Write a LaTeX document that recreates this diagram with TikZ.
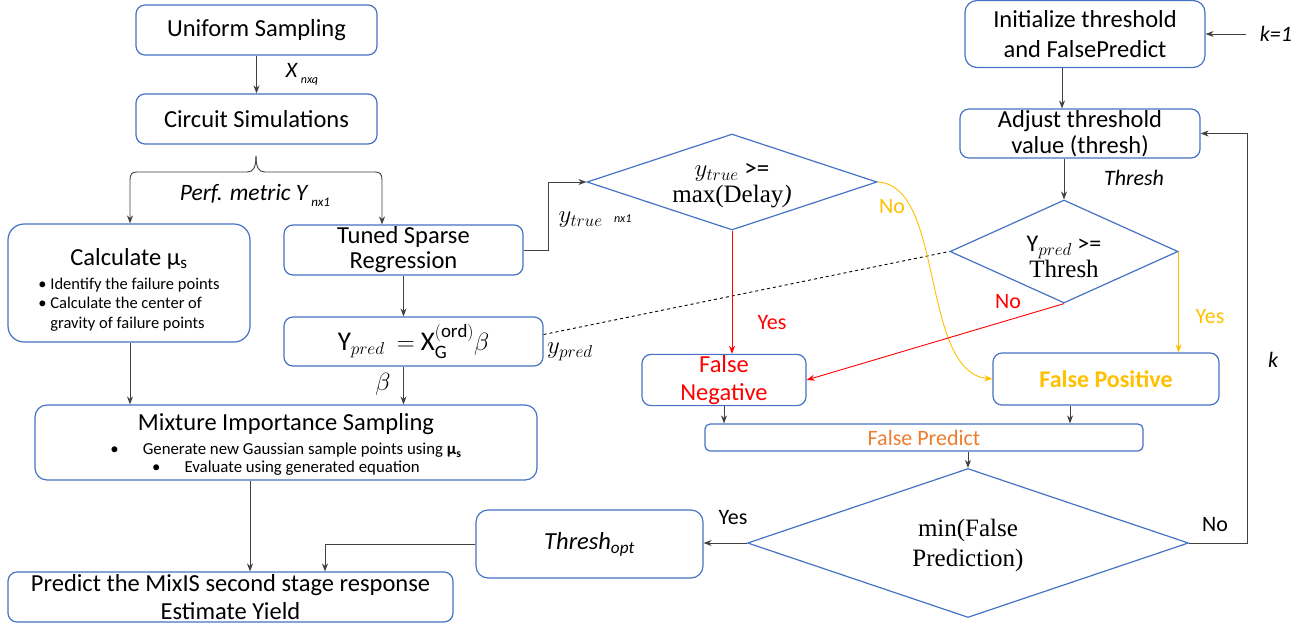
\documentclass[tikz,border=0pt]{standalone}
\usepackage{fontspec}
\setmainfont{Carlito}
\newfontfamily\serifface{Liberation Serif}
\usepackage{tikz}
\usetikzlibrary{arrows.meta, shapes.geometric, positioning, calc}
\usepackage{amsmath}

\definecolor{boxblue}{HTML}{4472C4}
\definecolor{fpyellow}{HTML}{FFC000}
\definecolor{fporange}{HTML}{ED7D31}
\definecolor{fnred}{HTML}{FF0000}
\definecolor{linegray}{HTML}{404040}

\tikzset{
  box/.style={draw=boxblue, line width=1.2pt, rounded corners=9pt, align=center, inner sep=1pt, font=\fontsize{24.5}{28}\selectfont},
  decision/.style={draw=boxblue, line width=1.2pt, diamond, inner sep=0pt},
  dtext/.style={align=center, inner sep=0pt, font=\fontsize{24}{26}\selectfont},
  line/.style={draw=linegray, line width=0.9pt},
  lbl/.style={font=\fontsize{22}{24}\selectfont},
}

\begin{document}
\begin{tikzpicture}[x=1pt, y=-1pt, >={Stealth[length=8pt,width=6pt]}]
\useasboundingbox (0,0) rectangle (1301,625);

% left column
\node[box, minimum width=241pt, minimum height=50pt] (us) at (256.5,30) {Uniform Sampling};
\node[box, minimum width=241pt, minimum height=50pt] (cs) at (256.5,119) {Circuit Simulations};
\node[box, rounded corners=16pt, minimum width=242pt, minimum height=118pt] (calc) at (129,283)
  {\rule{0pt}{33pt}Calculate μ\textsubscript{s}\\[-4pt]
   \fontsize{16.5}{19.5}\selectfont\begin{tabular}[t]{@{}l@{}}
   \textbullet\ Identify the failure points\\
   \textbullet\ Calculate the center of\\
   \phantom{\textbullet\ }gravity of failure points
   \end{tabular}};
\node[box, minimum width=239pt, minimum height=50pt, font=\fontsize{24.5}{25}\selectfont] (tsr) at (403.5,250) {Tuned Sparse\\Regression};
\node[box, minimum width=259pt, minimum height=49pt, font=\fontsize{27}{28}\selectfont] (ypb) at (413.5,341.5)
  {Y$_{pred}$\ \ $=$\ X$_{\mathrm{G}}^{(\mathrm{ord})}\beta$};
\node[box, rounded corners=12pt, minimum width=502pt, minimum height=75pt] (mis) at (286,442.5)
  {\rule{0pt}{23pt}Mixture Importance Sampling\\[-4pt]
   \fontsize{16.8}{17.5}\selectfont\begin{tabular}[t]{@{}c@{}}
   \textbullet\hspace{24pt}Generate new Gaussian sample points using \textbf{μ\textsubscript{s}}\\
   \textbullet\hspace{24pt}Evaluate using generated equation
   \end{tabular}};
\node[box, minimum width=445pt, minimum height=50pt, font=\fontsize{24.5}{28}\selectfont] (pred) at (230.5,597)
  {Predict the MixIS second stage response\\Estimate Yield};
\node[box, rounded corners=12pt, minimum width=227pt, minimum height=68pt] (topt) at (589.5,544) {\itshape Thresh\textsubscript{opt}};

% decisions
\node[decision, minimum width=290pt, minimum height=96pt] (ytd) at (732,182) {};
\node[dtext] (ytdtext) at (732,186) {\fontsize{25}{26}\selectfont$y_{true}$ >=\\{\serifface\fontsize{25}{26}\selectfont max(Delay\textit{)}}};
\node[decision, minimum width=228pt, minimum height=103pt] (ypt) at (1064,251.5) {};
\node[dtext] (ypttext) at (1064,257) {Y$_{pred}$ >=\\{\serifface\fontsize{25}{26}\selectfont Thresh}};
\node[decision, minimum width=441pt, minimum height=149pt] (minfp) at (968,543) {};
\node[dtext, font=\serifface\fontsize{25}{30}\selectfont] (minfptext) at (968,545) {min(False\\Prediction)};

% right column
\node[box, rounded corners=12pt, minimum width=240pt, minimum height=67pt, font=\fontsize{24.5}{30}\selectfont] (init) at (1085,34) {Initialize threshold\\and FalsePredict};
\node[box, minimum width=240pt, minimum height=49pt, font=\fontsize{24.5}{26}\selectfont] (adj) at (1080,133.5) {Adjust threshold\\value (thresh)};
\node[box, minimum width=164pt, minimum height=51pt, text=fnred, font=\fontsize{24.5}{28}\selectfont] (fn) at (724,380) {False\\Negative};
\node[box, minimum width=226pt, minimum height=52pt, text=fpyellow, font=\bfseries\fontsize{24}{28}\selectfont] (fp) at (1106,379) {False Positive};
\node[box, rounded corners=5pt, inner sep=0pt, minimum width=438pt, minimum height=27pt, text=fporange, font=\fontsize{22}{24}\selectfont] (fpr) at (924,437.5) {False Predict};

% labels
\node[lbl, font=\itshape\fontsize{22}{24}\selectfont] (xlab) at (302,74) {X\,\raisebox{-6pt}{\fontsize{12}{12}\selectfont nxq}};
\node[lbl, font=\itshape\fontsize{23.5}{24}\selectfont] (ylab) at (255,195) {Perf. metric Y\,\raisebox{-6pt}{\fontsize{13}{13}\selectfont nx1}};
\node[lbl] (ytlab) at (595,220) {\fontsize{25}{25}\selectfont$y_{true}$\ \ \itshape\fontsize{12}{12}\selectfont nx1};
\node[lbl] (yplab) at (570,352) {\fontsize{25}{25}\selectfont$y_{pred}$};
\node[lbl] (blab) at (383,384) {\fontsize{24}{24}\selectfont$\beta$};
\node[lbl, font=\itshape\fontsize{22}{24}\selectfont] (thlab) at (1134,178) {Thresh};
\node[lbl, text=fpyellow] (no1) at (892,207) {No};
\node[lbl, text=fnred] (yes1) at (772,323) {Yes};
\node[lbl, text=fnred] (no2) at (1008,302) {No};
\node[lbl, text=fpyellow] (yes2) at (1210,317) {Yes};
\node[lbl] (yes3) at (733,518) {Yes};
\node[lbl] (no3) at (1215,525) {No};
\node[lbl, font=\itshape\fontsize{22}{24}\selectfont] (klab) at (1273,360) {k};
\node[lbl, font=\itshape\fontsize{22}{24}\selectfont] (k1lab) at (1276,34) {k=1};

\coordinate (kone) at (1246,34);
\coordinate (loop) at (1247,340);
\coordinate (tip) at (256,156);

% connectors
\draw[line,->] (us) -- (cs);
\draw[line,->] (tip) .. controls (256,168) and (253,172) .. (247,172) -- (137,172)
  .. controls (132,172) and (130,174) .. (130,180) -- (130,0 |- calc.north);
\draw[line,->] (tip) .. controls (256,168) and (259,172) .. (265,172) -- (375,172)
  .. controls (380,172) and (382,174) .. (382,180) -- (382,0 |- tsr.north);
\draw[line,->] (calc.south -| 130,0) -- (130,0 |- mis.north);
\draw[line,->] (tsr.south) -- (tsr.south |- ypb.north);
\draw[line,->] (tsr.south |- ypb.south) -- (tsr.south |- mis.north);
\draw[line,->] (250,0 |- mis.south) -- (250,0 |- pred.north);
\draw[line,->] (topt.west) -| (325,0 |- pred.north);
\draw[line,->] (tsr.east) -- ++(25,0) |- (ytd.west);
\draw[dashed, line width=0.9pt] ([yshift=7pt]ypb.east) -- (ypt.west);
\draw[fnred, line width=0.9pt, ->] (ytd.south) -- (ytd.south |- fn.north);
\draw[fpyellow, line width=0.9pt, ->] (ytd.east) .. controls (945,185) and (920,372) .. (fp.west);
\draw[fpyellow, line width=0.9pt, ->] (ypt.east) -- (ypt.east |- fp.north);
\draw[fnred, line width=0.9pt, ->] (ypt.south) -- (fn.east);
\draw[line,->] (kone) -- (kone -| init.east);
\draw[line,->] (init.south -| 1062,0) -- (1062,0 |- adj.north);
\draw[line,->] (ypt.north |- adj.south) -- (ypt.north);
\draw[line,->] (fn.south) -- (fn.south |- fpr.north);
\draw[line,->] (1070,0 |- fp.south) -- (1070,0 |- fpr.north);
\draw[line,->] (minfp.north |- fpr.south) -- (minfp.north);
\draw[line,->] (minfp.west) -- (minfp.west -| topt.east);
\draw[line,->] (minfp.east) -| (loop) |- (adj.east);

\end{tikzpicture}
\end{document}
